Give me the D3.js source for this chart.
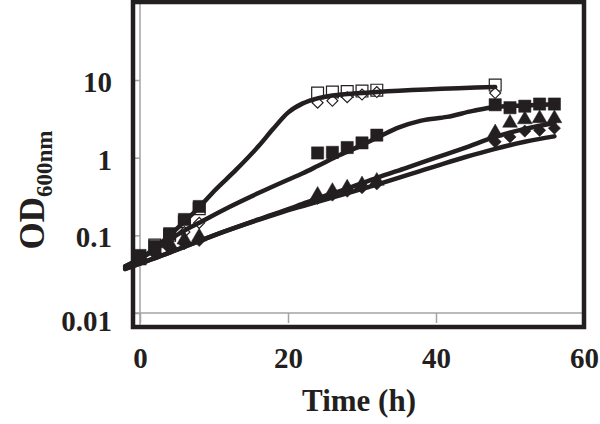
<!DOCTYPE html>
<html>
<head>
<meta charset="utf-8">
<script src="https://cdn.jsdelivr.net/npm/d3@7"></script>
<style>
  body { margin: 0; background: #fff; }
  svg { display: block; }
  text { font-family: "Liberation Serif", "Times New Roman", serif; font-weight: bold; fill: #231f20; }
</style>
</head>
<body>
<svg id="chart" width="600" height="424"></svg>
<script>
// sampling times (h)
const timesOpen = [0, 2, 4, 6, 8, 24, 26, 28, 30, 32, 48];
const timesFilled = [0, 2, 4, 6, 8, 24, 26, 28, 30, 32, 48, 50, 52, 54, 56];

// OD600 readings per strain
const openSquare = [0.05, 0.075, 0.1, 0.15, 0.22, 6.8, 7.0, 7.1, 7.2, 7.4, 8.6];
const openDiamond = [0.05, 0.07, 0.09, 0.11, 0.145, 5.1, 5.4, 6.0, 6.5, 7.0, 6.8];
const filledSquare = [0.055, 0.072, 0.105, 0.16, 0.235, 1.15, 1.17, 1.35, 1.55, 1.95, 4.8, 4.4, 4.6, 4.9, 4.9];
const filledTriangle = [0.05, 0.065, 0.078, 0.088, 0.096, 0.33, 0.37, 0.41, 0.45, 0.5, 2.1, 2.8, 3.1, 3.2, 3.2];
const filledDiamond = [0.05, 0.058, 0.068, 0.078, 0.086, 0.3, 0.33, 0.37, 0.41, 0.46, 1.6, 1.85, 2.2, 2.25, 2.4];

// fitted growth curves
const fitTimesA = [-2, 0, 2, 4, 6, 8, 10, 13, 16, 18, 20, 22, 24, 26, 28, 32, 48];
const fitA = [0.04, 0.05, 0.068, 0.1, 0.15, 0.23, 0.37, 0.7, 1.4, 2.35, 3.8, 5.0, 5.8, 6.3, 6.6, 7.0, 8.1];
const fitTimesB = [-2, 0, 2, 4, 6, 8, 12, 16, 20, 22, 24, 27, 30, 32.5, 35, 38, 41.5, 45, 48, 52, 56];
const fitB = [0.04, 0.05, 0.065, 0.088, 0.115, 0.145, 0.23, 0.35, 0.52, 0.63, 0.78, 1.08, 1.45, 1.9, 2.45, 3.0, 3.35, 4.0, 4.5, 4.7, 4.85];
const fitTimesC = [-2, 4, 10, 16, 21, 24, 28, 32, 36, 40, 44, 48, 52, 56];
const fitC = [0.037, 0.06, 0.1, 0.16, 0.235, 0.3, 0.4, 0.55, 0.74, 1.0, 1.35, 1.85, 2.35, 2.8];
const fitTimesD = [-2, 4, 10, 16, 21, 24, 29, 32, 40, 44, 48, 52, 56];
const fitD = [0.037, 0.06, 0.1, 0.158, 0.225, 0.27, 0.37, 0.45, 0.78, 1.02, 1.3, 1.6, 1.88];

// axis ticks
const xTicks = [0, 20, 40, 60];
const yTicks = [0.01, 0.1, 1, 10];
const yTickLabels = ['0.01', '0.1', '1', '10'];

const ink = '#231f20';
const grey = '#a3a3a3';

const svg = d3.select('#chart');
const x = d3.scaleLinear().domain([0, 60]).range([140, 584]);
const y = d3.scaleLog().domain([0.01, 10]).range([313, 80]);

const frame = { left: 133, right: 584, top: 2, bottom: 327 };

// grey axis lines inside the frame
svg.append('line')
  .attr('x1', x(0)).attr('x2', x(0))
  .attr('y1', frame.top).attr('y2', frame.bottom)
  .attr('stroke', grey).attr('stroke-width', 1.5);
svg.append('line')
  .attr('x1', frame.left).attr('x2', frame.right)
  .attr('y1', y(0.01)).attr('y2', y(0.01))
  .attr('stroke', grey).attr('stroke-width', 1.5);

const yAxis = svg.append('g')
  .attr('transform', 'translate(' + x(0) + ',0)')
  .call(d3.axisLeft(y).tickValues(yTicks)
    .tickFormat((d, i) => yTickLabels[i])
    .tickSize(8).tickPadding(20));
yAxis.select('.domain').remove();
yAxis.selectAll('line').attr('stroke', grey).attr('stroke-width', 1.5);
yAxis.selectAll('text')
  .attr('font-size', 29).attr('fill', ink)
  .attr('dy', d => d === 0.01 ? '0.62em' : '0.4em');

const xAxis = svg.append('g')
  .attr('transform', 'translate(0,' + y(0.01) + ')')
  .call(d3.axisBottom(x).tickValues(xTicks).tickSize(10).tickPadding(24));
xAxis.select('.domain').remove();
xAxis.selectAll('line').attr('stroke', grey).attr('stroke-width', 1.5);
xAxis.selectAll('text').attr('font-size', 29).attr('fill', ink);

// black plot frame
svg.append('rect')
  .attr('x', frame.left).attr('y', frame.top)
  .attr('width', frame.right - frame.left).attr('height', frame.bottom - frame.top)
  .attr('fill', 'none').attr('stroke', ink).attr('stroke-width', 4.5);

// markers
function drawSeries(times, values, type, filled, size, rotate) {
  const sym = d3.symbol().type(type).size(size);
  svg.append('g').selectAll('path')
    .data(values)
    .enter()
    .append('path')
    .attr('d', sym)
    .attr('transform', (d, i) => 'translate(' + x(times[i]) + ',' + y(d) + ')' + (rotate ? ' rotate(45)' : ''))
    .attr('fill', filled ? ink : '#fff')
    .attr('stroke', ink)
    .attr('stroke-width', filled ? 0.5 : 1.2);
}

drawSeries(timesOpen, openSquare, d3.symbolSquare, false, 140, false);
drawSeries(timesOpen, openDiamond, d3.symbolSquare, false, 60, true);
drawSeries(timesFilled, filledSquare, d3.symbolSquare, true, 150, false);
drawSeries(timesFilled, filledDiamond, d3.symbolSquare, true, 75, true);
drawSeries(timesFilled, filledTriangle, d3.symbolTriangle, true, 95, false);

// fitted curves
const line = d3.line()
  .x(d => x(d[0]))
  .y(d => y(d[1]))
  .curve(d3.curveMonotoneX);

[[fitTimesA, fitA], [fitTimesB, fitB], [fitTimesC, fitC], [fitTimesD, fitD]].forEach(function (f) {
  svg.append('path')
    .datum(f[0].map((t, i) => [t, f[1][i]]))
    .attr('d', line)
    .attr('fill', 'none')
    .attr('stroke', ink)
    .attr('stroke-width', 4.5)
    .attr('stroke-linecap', 'round');
});

// axis titles
svg.append('text')
  .attr('x', 359).attr('y', 411)
  .attr('text-anchor', 'middle')
  .attr('font-size', 31)
  .text('Time (h)');

const yTitle = svg.append('text')
  .attr('transform', 'translate(44,190) rotate(-90)')
  .attr('text-anchor', 'middle')
  .attr('font-size', 35);
yTitle.append('tspan').text('OD');
yTitle.append('tspan').attr('font-size', 23).attr('dy', 8).text('600nm');
</script>
</body>
</html>
